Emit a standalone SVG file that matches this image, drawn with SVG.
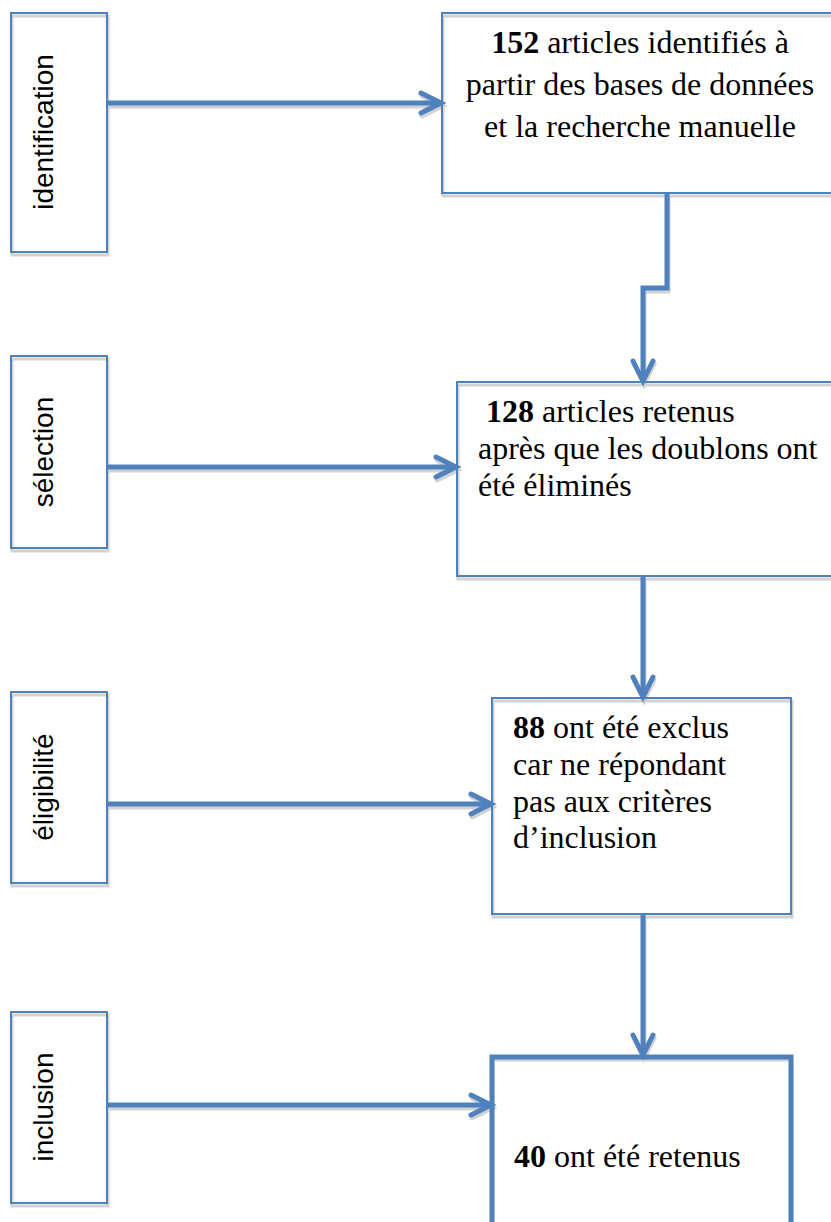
<svg xmlns="http://www.w3.org/2000/svg" width="831" height="1222" viewBox="0 0 831 1222">
<style>
.box{fill:none;stroke:#4f81bd;stroke-width:2}
.boxb{fill:none;stroke:#4f81bd;stroke-width:5}
.sh{fill:none;stroke:#d2d2d2;stroke-width:3}
.shl{fill:none;stroke:#d2d2d2;stroke-width:5;stroke-linecap:round;stroke-linejoin:miter}
.ln{fill:none;stroke:#4f81bd;stroke-width:5;stroke-linejoin:miter}
.hd{fill:none;stroke:#4f81bd;stroke-width:5;stroke-linecap:round;stroke-linejoin:miter}
.lab{font-family:"Liberation Sans",Arial,sans-serif;font-size:28px;fill:#000;text-anchor:middle}
.t{font-family:"Liberation Serif","Times New Roman",serif;font-size:32px;fill:#000}
.b{font-weight:bold}
</style>
<rect width="831" height="1222" fill="#fff"/>
<g id="shadows" transform="translate(1,3)">
  <rect class="sh" x="11" y="13" width="96" height="239"/>
  <rect class="sh" x="11" y="356" width="96" height="192"/>
  <rect class="sh" x="11" y="692" width="96" height="191"/>
  <rect class="sh" x="11" y="1012" width="96" height="191"/>
  <rect class="sh" x="442" y="13" width="400" height="180"/>
  <rect class="sh" x="457" y="382" width="390" height="194"/>
  <rect class="sh" x="492" y="698" width="299" height="216"/>
  <rect class="sh" x="492" y="1057" width="299" height="180"/>
  <path class="shl" d="M107 103H440M421 93L441 103L421 113"/>
  <path class="shl" d="M107 467H455M436 457L456 467L436 477"/>
  <path class="shl" d="M107 804H490M471 794L491 804L471 814"/>
  <path class="shl" d="M107 1105H490M471 1095L491 1105L471 1115"/>
  <path class="shl" d="M667 193V288H643V380M633 361L643 381L653 361"/>
  <path class="shl" d="M643 576V696M633 677L643 697L653 677"/>
  <path class="shl" d="M643 914V1054M633 1035L643 1055L653 1035"/>
</g>
<g id="connectors">
  <path class="ln" d="M107 103H440"/><path class="hd" d="M421 93L441 103L421 113"/>
  <path class="ln" d="M107 467H455"/><path class="hd" d="M436 457L456 467L436 477"/>
  <path class="ln" d="M107 804H490"/><path class="hd" d="M471 794L491 804L471 814"/>
  <path class="ln" d="M107 1105H490"/><path class="hd" d="M471 1095L491 1105L471 1115"/>
  <path class="ln" d="M667 193V288H643V380"/><path class="hd" d="M633 361L643 381L653 361"/>
  <path class="ln" d="M643 576V696"/><path class="hd" d="M633 677L643 697L653 677"/>
  <path class="ln" d="M643 914V1054"/><path class="hd" d="M633 1035L643 1055L653 1035"/>
</g>
<g id="stage-identification">
  <rect class="box" x="11" y="13" width="96" height="239"/>
  <text class="lab" transform="translate(53,132) rotate(-90)">identification</text>
</g>
<g id="stage-selection">
  <rect class="box" x="11" y="356" width="96" height="192"/>
  <text class="lab" transform="translate(53,452) rotate(-90)">sélection</text>
</g>
<g id="stage-eligibilite">
  <rect class="box" x="11" y="692" width="96" height="191"/>
  <text class="lab" transform="translate(53,787) rotate(-90)">éligibilité</text>
</g>
<g id="stage-inclusion">
  <rect class="box" x="11" y="1012" width="96" height="191"/>
  <text class="lab" transform="translate(53,1107) rotate(-90)">inclusion</text>
</g>
<g id="box-152">
  <rect class="box" x="442" y="13" width="400" height="180"/>
  <text class="t" x="640" y="53" text-anchor="middle"><tspan class="b">152</tspan> articles identifiés à</text>
  <text class="t" x="640" y="95" text-anchor="middle">partir des bases de données</text>
  <text class="t" x="640" y="137" text-anchor="middle">et la recherche manuelle</text>
</g>
<g id="box-128">
  <rect class="box" x="457" y="382" width="390" height="194"/>
  <text class="t" x="486" y="422"><tspan class="b">128</tspan> articles retenus</text>
  <text class="t" x="478" y="459">après que les doublons ont</text>
  <text class="t" x="478" y="496">été éliminés</text>
</g>
<g id="box-88">
  <rect class="box" x="492" y="698" width="299" height="216"/>
  <text class="t" x="513" y="738"><tspan class="b">88</tspan> ont été exclus</text>
  <text class="t" x="513" y="775">car ne répondant</text>
  <text class="t" x="513" y="812">pas aux critères</text>
  <text class="t" x="513" y="848">d’inclusion</text>
</g>
<g id="box-40">
  <rect class="boxb" x="492" y="1057" width="299" height="180"/>
  <text class="t" x="514" y="1167"><tspan class="b">40</tspan> ont été retenus</text>
</g>
</svg>
